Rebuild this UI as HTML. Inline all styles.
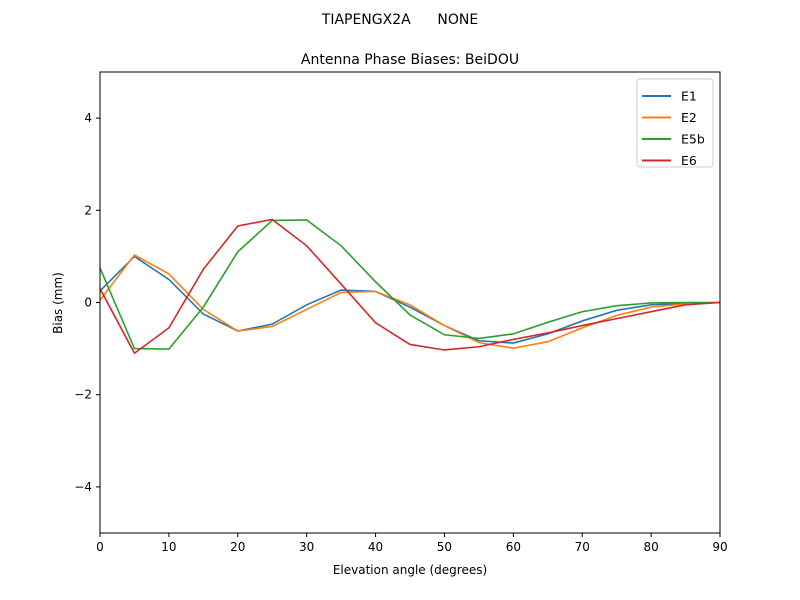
<!DOCTYPE html>
<html><head><meta charset="utf-8"><style>
body{margin:0;background:#fff;font-family:"Liberation Sans","DejaVu Sans",sans-serif}
svg{display:block}
</style></head><body>
<svg id="chart" width="800" height="600" font-family="'DejaVu Sans','Liberation Sans',sans-serif"></svg>
<script>
const elev=[0,5,10,15,20,25,30,35,40,45,50,55,60,65,70,75,80,85,90];
const e1=[0.25,1.0,0.5,-0.25,-0.62,-0.47,-0.05,0.27,0.24,-0.1,-0.5,-0.83,-0.88,-0.68,-0.4,-0.17,-0.05,-0.02,0];
const e2=[0.05,1.03,0.62,-0.15,-0.62,-0.52,-0.15,0.22,0.24,-0.05,-0.5,-0.87,-0.99,-0.85,-0.55,-0.28,-0.1,-0.03,0];
const e5b=[0.75,-1.0,-1.01,-0.1,1.1,1.78,1.79,1.23,0.45,-0.27,-0.7,-0.78,-0.68,-0.43,-0.2,-0.07,-0.01,0,0];
const e6=[0.3,-1.1,-0.55,0.72,1.66,1.8,1.23,0.4,-0.44,-0.91,-1.03,-0.96,-0.8,-0.66,-0.5,-0.35,-0.2,-0.05,0];
const xTicks=[0,10,20,30,40,50,60,70,80,90];
const yTicks=[-4,-2,0,2,4];
const seriesNames=["E1","E2","E5b","E6"];
const colors=["#1f77b4","#ff7f0e","#2ca02c","#d62728"];
const L=100,R=720,T=72,B=533;
const X=v=>L+(v-0)/90*(R-L);
const Y=v=>T+(5-v)/10*(B-T);
const svg=document.getElementById('chart');
const NS='http://www.w3.org/2000/svg';
function mk(tag,attrs,text){const e=document.createElementNS(NS,tag);for(const k in attrs)e.setAttribute(k,attrs[k]);if(text!==undefined)e.textContent=text;svg.appendChild(e);return e;}
let t=mk('text',{x:400,y:24,'text-anchor':'middle','font-size':14,style:'white-space:pre'},'TIAPENGX2A      NONE');


t=mk('text',{x:410,y:64,'text-anchor':'middle','font-size':14},'Antenna Phase Biases: BeiDOU');


const all=[e1,e2,e5b,e6];
all.forEach((s,i)=>{
 const p=mk('polyline',{points:s.map((v,j)=>X(elev[j])+','+Y(v)).join(' '),fill:'none',stroke:colors[i],'stroke-width':1.6});
 
 
});
const frame=mk('rect',{x:L,y:T,width:R-L,height:B-T,fill:'none',stroke:'#000','stroke-width':1});


xTicks.forEach(v=>{
 mk('line',{x1:X(v),x2:X(v),y1:B,y2:B+4,stroke:'#000'});
 const tt=mk('text',{x:X(v),y:B+18,'text-anchor':'middle','font-size':12},String(v));
 
 
});
yTicks.forEach(v=>{
 mk('line',{x1:L-4,x2:L,y1:Y(v),y2:Y(v),stroke:'#000'});
 const tt=mk('text',{x:L-8,y:Y(v)+4,'text-anchor':'end','font-size':12},(v<0?'\u2212'+(-v):String(v)));
 
 
});
t=mk('text',{x:410,y:574,'text-anchor':'middle','font-size':12},'Elevation angle (degrees)');


t=mk('text',{x:62,y:303,'text-anchor':'middle','font-size':12,transform:'rotate(-90 62 303)'},'Bias (mm)');


const lg=mk('rect',{x:637,y:79,width:76,height:88,fill:'#fff',stroke:'#ccc',rx:3});


seriesNames.forEach((n,i)=>{
 const y=96+i*21.5;
 mk('line',{x1:642,x2:671,y1:y,y2:y,stroke:colors[i],'stroke-width':2});
 const e=mk('text',{x:681,y:y+4.5,'font-size':12.5},n);
 
 
});
</script>
</body></html>
